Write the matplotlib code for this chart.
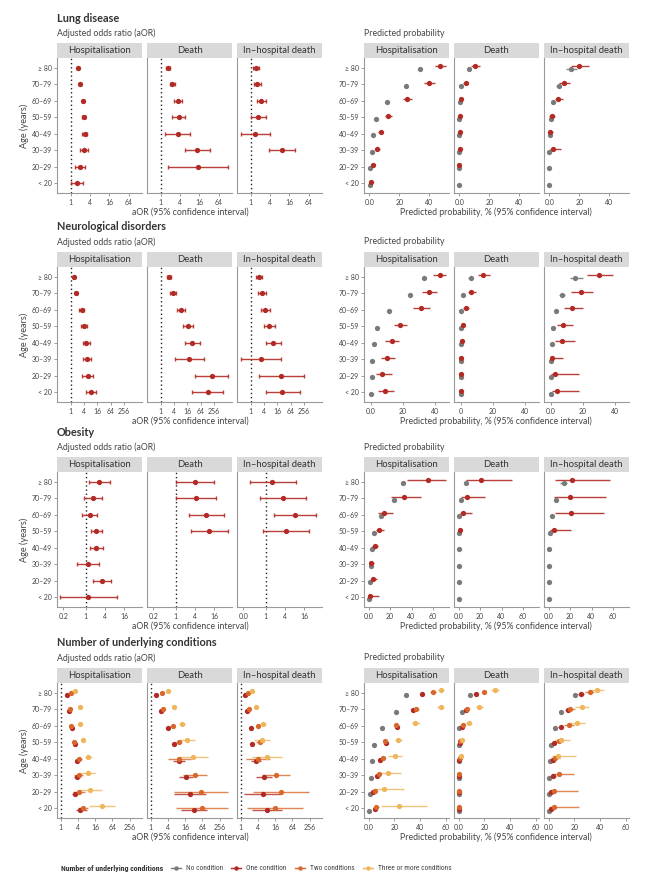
import numpy as np
import matplotlib.pyplot as plt
from matplotlib.lines import Line2D
from matplotlib.patches import Rectangle
from matplotlib.ticker import NullLocator

plt.rcParams['font.family'] = ['Lato', 'DejaVu Sans']
NARROW = ['Roboto Condensed', 'Liberation Sans Narrow', 'Roboto', 'DejaVu Sans']

ages = ["≥ 80", "70–79", "60–69", "50–59", "40–49", "30–39", "20–29", "< 20"]
outcomes = ["Hospitalisation", "Death", "In–hospital death"]
keys = ["hosp", "death", "inhosp"]

GREY = "#7a7a7a"
RED = "#b22a24"
ORANGE = "#d8672c"
YELLOW = "#efb55b"

# values are (estimate, lower, upper) per age group, >=80 first; None = not shown
# ---- Lung disease ----
lung_aor = {
    "hosp": [(1.73, 1.62, 1.85), (1.95, 1.83, 2.08), (2.35, 2.2, 2.52), (2.52, 2.3, 2.76),
             (2.71, 2.24, 3.28), (2.65, 1.99, 3.52), (1.9, 1.36, 2.85), (1.57, 1.05, 2.35)],
    "death": [(1.68, 1.43, 1.99), (2.3, 1.9, 2.85), (3.52, 2.59, 4.69), (3.6, 2.19, 5.67),
              (3.36, 1.36, 8.3), (14, 5.67, 33.7), (14.3, 1.68, 124), None],
    "inhosp": [(1.5, 1.21, 1.85), (1.57, 1.24, 2.04), (2.14, 1.53, 2.91), (1.73, 1.02, 2.91),
               (1.39, 0.51, 3.97), (9.3, 3.6, 24.2), None, None],
}
lung_prob = {
    "hosp": [(47.3, 43.8, 50.9), (40, 36.7, 43.8), (25.1, 22.2, 28.4), (12.7, 10.7, 14.9),
             (7.6, 6, 9.3), (5.3, 3.6, 7.1), (2.2, 0.9, 3.8), (1.1, 0.5, 2)],
    "death": [(10.3, 7.5, 13.8), (4.2, 2.4, 5.9), (1.3, 0.5, 2.4), (0.3, 0.1, 0.6),
              (0.2, 0.05, 0.4), (0.2, 0.05, 0.5), (0.1, 0.0, 0.3), None],
    "inhosp": [(19.8, 14.7, 26.4), (9.7, 6.6, 13.6), (5.9, 3.7, 9.0), (1.8, 0.1, 3.7),
               (0.7, 0.0, 2.4), (2.6, 0.4, 7.7), None, None],
}
lung_prob_none = {
    "hosp": [(33.6, 33.0, 34.2), (24.4, 24.0, 24.8), (11.8, 11.5, 12.1), (4.7, 4.5, 4.9),
             (2.4, 2.3, 2.5), (1.6, 1.5, 1.7), (0.7, 0.6, 0.8), (0.2, 0.15, 0.25)],
    "death": [(6.4, 5.5, 7.3), (1.3, 1.2, 1.4), (0.3, 0.25, 0.35), (0.05, 0.03, 0.07),
              (0.02, 0.01, 0.03), (0.01, 0.0, 0.02), (0.0, 0.0, 0.01), (0.0, 0.0, 0.01)],
    "inhosp": [(14.5, 10.8, 18.2), (6.4, 4.6, 8.1), (2.6, 2.2, 3.0), (0.9, 0.7, 1.1),
               (0.2, 0.15, 0.3), (0.1, 0.05, 0.15), (0.05, 0.02, 0.1), (0.02, 0.01, 0.05)],
}

# ---- Neurological disorders ----
neuro_aor = {
    "hosp": [(1.41, 1.3, 1.53), (1.74, 1.6, 1.9), (3.1, 2.45, 4.1), (3.97, 3.0, 5.4),
             (4.9, 3.46, 7.1), (5.2, 3.46, 8.2), (5.8, 3.3, 10.4), (8.2, 5.0, 14.2)],
    "death": [(2.29, 1.86, 2.81), (3.7, 2.72, 5.06), (7.9, 5.42, 12), (17.5, 10.4, 29.4),
              (26.5, 12.4, 58.5), (19.4, 4.56, 91.7), (202, 37.3, 1136), (134, 27.4, 676)],
    "inhosp": [(2.29, 1.74, 3.12), (3.23, 2.2, 4.72), (4.56, 2.91, 7.15), (6.67, 3.97, 12.8),
               (10.4, 4.72, 24.7), (2.91, 0.36, 24.7), (24.7, 2.45, 258), (27.4, 4.72, 170)],
}
neuro_prob = {
    "hosp": [(42.7, 38.9, 46.6), (36, 31.7, 41.4), (31.3, 26.5, 37), (18.4, 14.7, 22.8),
             (13, 9.1, 17.6), (10.1, 6.4, 15.3), (7.2, 3.5, 13), (8.7, 4.8, 14.5)],
    "death": [(13.9, 10.4, 18.4), (6.4, 4.3, 9.5), (3.3, 1.7, 5.2), (1.2, 0.4, 2.0),
              (0.6, 0.2, 1.1), (0.3, 0.05, 0.6), (0.3, 0.05, 0.6), (0.3, 0.05, 0.6)],
    "inhosp": [(29.9, 22.4, 38.4), (18.8, 12.7, 26.3), (12.9, 8.1, 20.2), (7.7, 4.0, 13.9),
               (6.9, 2.8, 15.2), (0.8, 0.0, 7.7), (2.4, 0.2, 17.8), (4.0, 0.8, 17.8)],
}
neuro_prob_none = {
    "hosp": [(33.3, 32.8, 33.8), (24.2, 23.8, 24.6), (11.4, 11.1, 11.7), (4.1, 3.9, 4.3),
             (1.9, 1.8, 2.0), (1.0, 0.9, 1.1), (0.5, 0.4, 0.6), (0.2, 0.15, 0.25)],
    "death": [(6.2, 4.6, 7.9), (1.4, 1.1, 1.7), (0.2, 0.15, 0.25), (0.05, 0.03, 0.07),
              (0.02, 0.01, 0.03), (0.01, 0.0, 0.02), (0.0, 0.0, 0.01), (0.0, 0.0, 0.01)],
    "inhosp": [(15.2, 11.7, 19.8), (6.9, 5.0, 9.1), (3.2, 2.6, 3.8), (1.2, 0.9, 1.5),
               (0.6, 0.4, 0.8), (0.1, 0.05, 0.15), (0.0, 0.0, 0.05), (0.0, 0.0, 0.05)],
}

# ---- Obesity ----
obes_aor = {
    "hosp": [(2.66, 1.27, 5.6), (1.65, 0.89, 3.15), (1.33, 0.79, 2.25), (2.15, 1.5, 3.23),
             (2.1, 1.33, 3.55), (1.15, 0.52, 2.6), (3.23, 1.69, 6.3), (1.21, 0.16, 9.2)],
    "death": [(4.1, 1.05, 16), (4.4, 1.05, 18.5), (8.8, 2.54, 31.3), (10.9, 2.93, 42.6),
              None, None, None, None],
    "inhosp": [(1.61, 0.32, 8.6), (3.38, 0.65, 17.6), (8.0, 1.82, 36), (4.3, 0.83, 22.9),
               None, None, None, None],
}
obes_prob = {
    "hosp": [(55, 36, 72), (33.2, 21.1, 48.8), (14.6, 9, 23), (9.9, 6.5, 14.6),
             (5.6, 3.1, 9), (1.9, 0.3, 5.3), (4, 1.9, 8.1), (0.9, 0.0, 9.9)],
    "death": [(20.8, 6.5, 49.8), (7.8, 1.9, 24.9), (3.7, 1.2, 12.1), (0.9, 0.0, 3.4),
              None, None, None, None],
    "inhosp": [(22, 5.5, 57.6), (19.6, 4.9, 53.6), (20.5, 5.5, 51.8), (4.9, 0.9, 20.5),
               None, None, None, None],
}
obes_prob_none = {
    "hosp": [(32.3, 31.8, 32.8), (23.6, 23.2, 24), (11.8, 11.5, 12.1), (5, 4.8, 5.2),
             (2.8, 2.7, 2.9), (1.9, 1.8, 2.0), (0.9, 0.8, 1.0), (0.6, 0.5, 0.7)],
    "death": [(6.5, 5.9, 7.1), (1.9, 1.7, 2.1), (0.3, 0.25, 0.35), (0.1, 0.08, 0.12),
              (0.05, 0.03, 0.07), (0.02, 0.01, 0.03), (0.01, 0.0, 0.02), (0.0, 0.0, 0.01)],
    "inhosp": [(14.1, 11, 17.5), (7, 6, 8), (3.1, 2.6, 3.6), (1.2, 1.0, 1.4),
               (0.3, 0.2, 0.4), (0.1, 0.05, 0.15), (0.05, 0.02, 0.08), (0.0, 0.0, 0.02)],
}

# ---- Number of underlying conditions ----
num_aor_one = {
    "hosp": [(1.71, 1.6, 1.83), (1.95, 1.83, 2.08), (2.42, 2.28, 2.57), (3.25, 3.0, 3.5),
             (3.8, 3.3, 4.4), (3.7, 3.0, 4.7), (3.08, 2.48, 4.0), (4.85, 3.3, 8.0)],
    "death": [(1.57, 1.45, 1.7), (2.35, 2.1, 2.6), (4.0, 3.5, 4.6), (6.3, 5.4, 7.4),
              (9.6, 6.1, 16), (16.9, 9.9, 28.8), (23.2, 6.3, 83), (32.8, 11.6, 93)],
    "inhosp": [(1.41, 1.3, 1.53), (1.66, 1.52, 1.8), (2.2, 1.95, 2.5), (2.54, 2.2, 2.95),
               (3.3, 2.3, 5.1), (6.3, 3.5, 12.6), (5.8, 1.27, 25.9), (8.2, 2.54, 26.6)],
}
num_aor_two = {
    "hosp": [(2.35, 2.2, 2.5), (2.12, 1.98, 2.27), (2.29, 2.14, 2.45), (3.0, 2.75, 3.3),
             (4.36, 3.5, 5.4), (4.24, 3.0, 6.0), (4.24, 2.6, 6.9), (5.85, 3.9, 9.0)],
    "death": [(2.48, 2.25, 2.75), (2.6, 2.3, 2.95), (5.8, 4.9, 6.9), (9.6, 7.6, 12.1),
              (9.9, 3.9, 25), (34.7, 13.6, 90.5), (59, 6.6, 512), (60.6, 7.6, 512)],
    "inhosp": [(1.85, 1.65, 2.07), (1.9, 1.7, 2.15), (3.9, 3.3, 4.6), (4.57, 3.3, 6.4),
               (4.0, 1.57, 10.4), (16.9, 5.66, 53), (25.2, 2.68, 236), (16, 1.7, 150)],
}
num_aor_three = {
    "hosp": [(3.08, 2.8, 3.4), (4.6, 4.1, 5.2), (4.72, 4.2, 5.3), (6.2, 5.4, 7.1),
             (8.7, 6.9, 12.4), (8.7, 5.0, 16.2), (10.3, 4.6, 26.9), (27.6, 9.7, 76)],
    "death": [(3.9, 3.5, 4.4), (6.5, 5.4, 7.8), (12.3, 9.5, 16), (18.8, 10.4, 33.8),
              (31, 9.1, 103), None, None, None],
    "inhosp": [(2.54, 2.2, 2.95), (3.4, 2.8, 4.1), (6.0, 4.6, 7.9), (5.66, 3.0, 10.5),
               (8.2, 2.4, 28), None, None, None],
}
num_prob_none = {
    "hosp": [(29.4, 29, 29.8), (21, 20.6, 21.4), (10.4, 10.1, 10.7), (4.4, 4.2, 4.6),
             (2.3, 2.2, 2.4), (1.6, 1.5, 1.7), (0.8, 0.7, 0.9), (0.5, 0.4, 0.6)],
    "death": [(9.2, 8.6, 9.8), (2.6, 2.4, 2.8), (0.5, 0.4, 0.6), (0.1, 0.08, 0.12),
              (0.05, 0.03, 0.07), (0.0, 0.0, 0.02), (0.0, 0.0, 0.01), (0.0, 0.0, 0.01)],
    "inhosp": [(20.3, 19.3, 21.3), (9.9, 9.2, 10.6), (4.7, 4.2, 5.2), (2.1, 1.8, 2.4),
               (1.0, 0.8, 1.2), (0.5, 0.4, 0.6), (0.1, 0.0, 0.2), (0.0, 0.0, 0.1)],
}
num_prob_one = {
    "hosp": [(41.8, 40.5, 43.1), (34.8, 33.5, 36.1), (22.1, 21, 23.2), (13.8, 12.8, 14.8),
             (9.1, 8.2, 10), (6.8, 5.8, 7.8), (3.4, 2.7, 4.1), (4.9, 3.7, 6.1)],
    "death": [(13.4, 12.2, 14.6), (5.8, 5.0, 6.6), (2.9, 2.4, 3.4), (0.8, 0.6, 1.0),
              (0.3, 0.2, 0.4), (0.2, 0.1, 0.3), (0.2, 0.1, 0.3), (0.2, 0.1, 0.3)],
    "inhosp": [(25.5, 23.2, 27.5), (14.8, 12.5, 17.1), (9.4, 7.5, 11.5), (4.2, 2.5, 6.0),
               (3.6, 1.8, 5.5), (3.4, 1.2, 5.8), (1.6, 0.2, 3.6), (1.8, 0.2, 4.0)],
}
num_prob_two = {
    "hosp": [(50.4, 48, 52.8), (37.1, 35.3, 38.9), (21.6, 20.4, 22.8), (12.7, 11.5, 13.9),
             (10.9, 9.4, 12.4), (8.1, 6.3, 9.9), (4.9, 3.0, 6.8), (6.0, 3.8, 8.2)],
    "death": [(20, 18.5, 21.5), (6.8, 5.8, 7.8), (3.7, 2.9, 4.5), (1.3, 0.9, 1.7),
              (0.8, 0.4, 1.2), (0.5, 0.2, 0.8), (0.4, 0.1, 0.8), (0.4, 0.1, 0.8)],
    "inhosp": [(31.9, 28.5, 35.5), (16.9, 13.5, 20.5), (15.8, 12, 19.8), (7.8, 4.5, 11.5),
               (4.7, 1.5, 8.5), (8.1, 2.6, 19.7), (3.9, 0.5, 22.9), (3.9, 0.5, 23.4)],
}
num_prob_three = {
    "hosp": [(56.4, 53.8, 59), (56.1, 53.2, 59), (36.4, 33.5, 39.7), (23.1, 20.5, 26.2),
             (20.3, 15.3, 26.2), (15.1, 8.1, 25.2), (12.2, 3.6, 27.3), (23.4, 9.9, 45.2)],
    "death": [(28.2, 25.5, 31.6), (16.1, 13.2, 18.7), (7.9, 5.8, 10.3), (2.4, 0.8, 3.9),
              (1.6, 0.0, 3.7), None, None, None],
    "inhosp": [(37.7, 31.2, 43.4), (26.2, 20.8, 31.7), (22.1, 15.6, 28.1), (9.9, 4.7, 16.4),
               (7.3, 2.3, 21.3), None, None, None],
}

legend_title = "Number of underlying conditions"
legend_labels = ["No condition", "One condition", "Two conditions", "Three or more conditions"]

# ---- layout (pixels) ----
W, H = 655, 884
fig = plt.figure(figsize=(W / 100, H / 100), dpi=100)
LEFT_X = [57, 147, 237]
RIGHT_X = [364, 454, 544]
PW, PH, SH = 85, 135, 15
TXT = "#444444"
AX = "#9a9a9a"


def fx(x):
    return x / W


def fy(y):
    return 1 - y / H


def dodge(n):
    return {1: [0], 2: [-0.09, 0.09], 3: [-0.12, 0, 0.12], 4: [-0.15, -0.05, 0.05, 0.15]}[n]


def draw_panel(x, top, title, series, log, xlim, ticks, ticklabels, caps, alpha, ylabels, ref):
    fig.add_artist(Rectangle((fx(x), fy(top + SH)), PW / W, SH / H, transform=fig.transFigure,
                             facecolor="#d9d9d9", edgecolor="none"))
    fig.text(fx(x + PW / 2), fy(top + SH / 2), title, ha="center", va="center", fontsize=6.8, color="#333333")
    ax = fig.add_axes([fx(x), fy(top + SH + PH), PW / W, PH / H])
    if log:
        ax.set_xscale("log", base=2)
        ax.set_xlim(2 ** xlim[0], 2 ** xlim[1])
    else:
        ax.set_xlim(*xlim)
    ax.set_ylim(0.4, 8.6)
    if ref:
        ax.axvline(1, color="#222222", lw=1.0, ls=(0, (1, 2)), zorder=1)
    for (data, color), dy in zip(series, dodge(len(series))):
        rows = [(8 - i + dy, v) for i, v in enumerate(data) if v is not None]
        ys = np.array([r[0] for r in rows])
        est = np.array([r[1][0] for r in rows])
        lo = np.array([r[1][1] for r in rows])
        hi = np.array([r[1][2] for r in rows])
        ax.errorbar(est, ys, xerr=[est - lo, hi - est], fmt="none", ecolor=color,
                    elinewidth=1.0, capsize=1.4 if caps else 0, capthick=1.0, alpha=alpha, zorder=2)
        ax.plot(est, ys, "o", color=color, ms=3.8, mew=0, zorder=3)
    ax.set_xticks(ticks)
    ax.set_xticklabels(ticklabels)
    ax.xaxis.set_minor_locator(NullLocator())
    ax.yaxis.set_minor_locator(NullLocator())
    for s in ["top", "right"]:
        ax.spines[s].set_visible(False)
    for s in ["left", "bottom"]:
        ax.spines[s].set_color(AX)
        ax.spines[s].set_linewidth(0.8)
    ax.tick_params(axis="x", length=2.2, width=0.7, color=AX, labelsize=5.0, labelcolor=TXT, pad=2.2)
    if ylabels:
        ax.set_yticks(range(1, 9))
        ax.set_yticklabels(ages[::-1])
        ax.tick_params(axis="y", length=2.2, width=0.7, color=AX, labelsize=5.0, labelcolor=TXT, pad=1.5)
    else:
        ax.set_yticks([])
    ax.set_facecolor("none")
    return ax


sections = [
    dict(title="Lung disease", top=43,
         aor=[(lung_aor, RED)], prob=[(lung_prob_none, GREY), (lung_prob, RED)],
         aor_lim=(-1.42, 7.39), aor_ticks=[1, 4, 16, 64],
         aor_labels=[["1", "4", "16", "64"]] * 3,
         prob_lim=(-3.5, 53), prob_ticks=[0, 20, 40],
         prob_labels=[["0.0", "20", "40"]] * 3, caps=True, alpha=0.9),
    dict(title="Neurological disorders", top=252,
         aor=[(neuro_aor, RED)], prob=[(neuro_prob_none, GREY), (neuro_prob, RED)],
         aor_lim=(-2.07, 10.73), aor_ticks=[1, 4, 16, 64, 256],
         aor_labels=[["1", "4", "16", "64", "256"]] * 3,
         prob_lim=(-4.2, 48.6), prob_ticks=[0, 20, 40],
         prob_labels=[["0.0", "20", "40"], ["0", "20", "40"], ["0.0", "20", "40"]], caps=True, alpha=0.9),
    dict(title="Obesity", top=457,
         aor=[(obes_aor, RED)], prob=[(obes_prob_none, GREY), (obes_prob, RED)],
         aor_lim=(-2.98, 5.82), aor_ticks=[0.2, 1, 4, 16],
         aor_labels=[["0.2", "1", "4", "16"], ["0.2", "1", "4", "16"], ["0.0", "1", "4", "16"]],
         prob_lim=(-4.4, 75), prob_ticks=[0, 20, 40, 60],
         prob_labels=[["0.0", "20", "40", "60"]] * 3, caps=True, alpha=0.9),
    dict(title="Number of underlying conditions", top=668,
         aor=[(num_aor_one, RED), (num_aor_two, ORANGE), (num_aor_three, YELLOW)],
         prob=[(num_prob_none, GREY), (num_prob_one, RED), (num_prob_two, ORANGE), (num_prob_three, YELLOW)],
         aor_lim=(-0.43, 9.42), aor_ticks=[1, 4, 16, 64, 256],
         aor_labels=[["1", "4", "16", "64", "256"]] * 3,
         prob_lim=(-3.6, 62.6), prob_ticks=[0, 20, 40, 60],
         prob_labels=[["0.0", "20", "40", "60"]] * 3, caps=False, alpha=0.8),
]

for sec in sections:
    top = sec["top"]
    fig.text(fx(57), fy(top - 25), sec["title"], ha="left", va="center", fontsize=7.8,
             fontweight="bold", color="#333333")
    fig.text(fx(57), fy(top - 10), "Adjusted odds ratio (aOR)", ha="left", va="center", fontsize=6.3, color=TXT)
    fig.text(fx(364), fy(top - 10), "Predicted probability", ha="left", va="center", fontsize=6.3, color=TXT)
    for j, k in enumerate(keys):
        draw_panel(LEFT_X[j], top, outcomes[j], [(d[k], c) for d, c in sec["aor"]], True,
                   sec["aor_lim"], sec["aor_ticks"], sec["aor_labels"][j], sec["caps"], sec["alpha"],
                   j == 0, True)
        draw_panel(RIGHT_X[j], top, outcomes[j], [(d[k], c) for d, c in sec["prob"]], False,
                   sec["prob_lim"], sec["prob_ticks"], sec["prob_labels"][j], False, sec["alpha"],
                   j == 0, False)
    bottom = top + SH + PH
    fig.text(fx(190), fy(bottom + 19), "aOR (95% confidence interval)", ha="center", va="center",
             fontsize=6.3, color=TXT)
    fig.text(fx(496), fy(bottom + 19), "Predicted probability, % (95% confidence interval)",
             ha="center", va="center", fontsize=6.3, color=TXT)
    fig.text(fx(24), fy(top + SH + PH / 2), "Age (years)", rotation=90, ha="center", va="center",
             fontsize=6.6, color=TXT)

# legend row: laid out left to right from measured text widths, centred where the reference has it
renderer = fig.canvas.get_renderer()
LY = fy(868)
parts = []
t = fig.text(0, LY, legend_title, ha="left", va="center", fontsize=5.6, fontweight="bold",
             color="#333333", family=NARROW)
parts.append(("text", t, t.get_window_extent(renderer).width))
for c, lab in zip([GREY, RED, ORANGE, YELLOW], legend_labels):
    t = fig.text(0, LY, lab, ha="left", va="center", fontsize=5.3, color=TXT, family=NARROW)
    parts.append(("key", c, 10))
    parts.append(("text", t, t.get_window_extent(renderer).width))
gaps = {"key": 5, "text": 8}
total = sum(w for _, _, w in parts) + sum(gaps[k] for k, _, _ in parts[:-1])
x = 256 - total / 2
for kind, obj, w in parts:
    if kind == "text":
        obj.set_x(fx(x))
    else:
        fig.add_artist(Line2D([fx(x), fx(x + w)], [LY, LY], color=obj, lw=1.0, transform=fig.transFigure))
        fig.add_artist(Line2D([fx(x + w / 2)], [LY], color=obj, marker="o", ms=3.2, mew=0,
                              transform=fig.transFigure))
    x += w + gaps[kind]

fig.savefig("out.png", dpi=100, facecolor="white")
